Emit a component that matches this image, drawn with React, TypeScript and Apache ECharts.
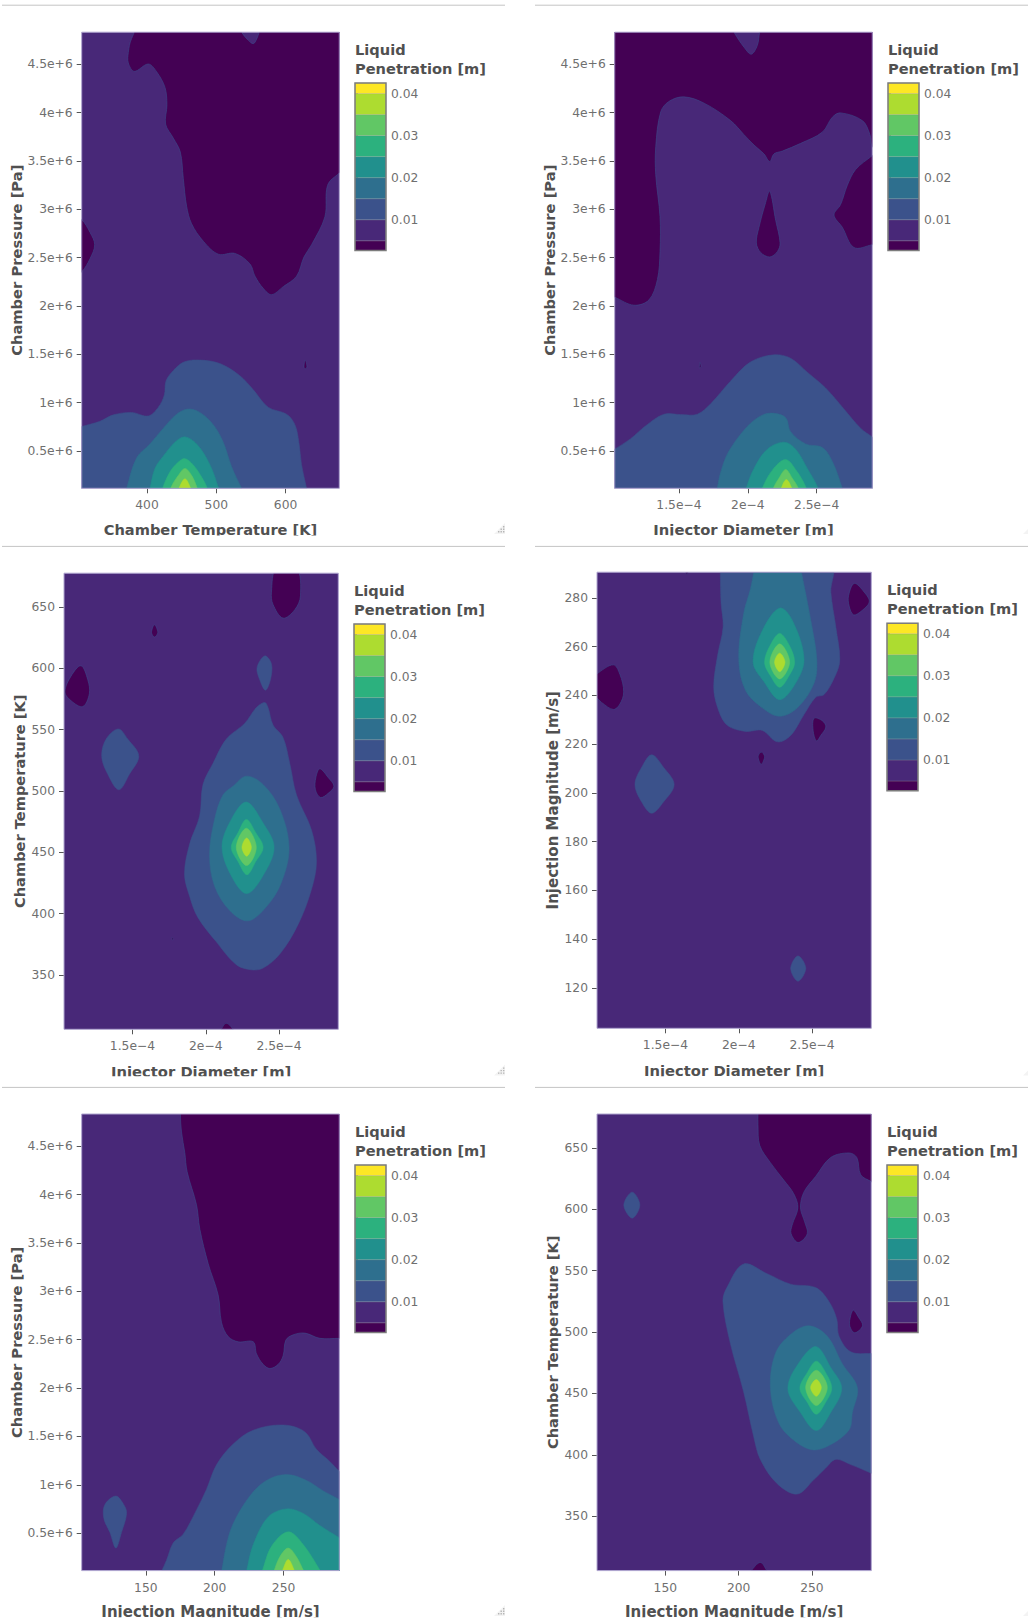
import React, { useEffect, useRef } from "react";
import * as echarts from "echarts";

// ---- tick values and labels ----
const pressureTicks = [0.5e6, 1e6, 1.5e6, 2e6, 2.5e6, 3e6, 3.5e6, 4e6, 4.5e6];
const pressureLabels = ["0.5e+6", "1e+6", "1.5e+6", "2e+6", "2.5e+6", "3e+6", "3.5e+6", "4e+6", "4.5e+6"];
const tempTicksX = [400, 500, 600];
const tempTicksY = [350, 400, 450, 500, 550, 600, 650];
const diamTicks = [1.5e-4, 2e-4, 2.5e-4];
const diamLabels = ["1.5e\u22124", "2e\u22124", "2.5e\u22124"];
const magTicksX = [150, 200, 250];
const magTicksY = [120, 140, 160, 180, 200, 220, 240, 260, 280];
const barTicks = [0.01, 0.02, 0.03, 0.04];

// ---- axis ranges ----
const pressureRange = [0.113e6, 4.833e6];
const tempRange = [305.8, 677.5];
const diamRange = [1.033e-4, 2.904e-4];
const magRange = [103.4, 290.5];

// ---- colour scale: contour level edges ----
const barEdges = [0.0027, 0.005, 0.01, 0.015, 0.02, 0.025, 0.03, 0.035, 0.04, 0.0425];
const bandColors = ["#440154", "#482878", "#3b528b", "#2e6f8e", "#21908d", "#2cb17e", "#61c765", "#addc30", "#fde725"];

// ---- Panel 1: Chamber Temperature [K] vs Chamber Pressure [MPa] ----
const p1DarkA = [[392.3,4.913],[377.9,4.768],[373.1,4.623],[373.1,4.515],[381.7,4.428],[401.9,4.504],[413.9,4.424],[426,4.262],[428.8,4.081],[426.9,3.882],[438,3.737],[448.1,3.593],[452.4,3.321],[457.2,3.032],[464.4,2.851],[481.3,2.67],[502.9,2.536],[526.9,2.544],[548.6,2.435],[555.8,2.309],[567.8,2.182],[579.8,2.117],[596.6,2.2],[615.9,2.309],[626.5,2.507],[637.5,2.634],[656.7,2.923],[660.6,3.249],[677.4,3.375],[692.8,3.466],[692.8,4.913],[565.4,4.913],[562,4.833],[558.2,4.761],[553.4,4.714],[546.2,4.75],[536.5,4.833],[533.2,4.913]];
const p1DarkB = [[296.2,2.923],[305.8,2.894],[317.8,2.761],[324.5,2.634],[317.8,2.489],[305.8,2.352],[296.2,2.309]];
const p1DarkC = [[628.4,1.44],[630.8,1.37],[628.4,1.35],[626.5,1.37]];
const p1L010 = [[296.2,0.735],[305.8,0.753],[332.2,0.807],[351.4,0.873],[377.9,0.898],[401.9,0.862],[416.3,0.952],[425,1.079],[427.4,1.223],[438,1.332],[453.9,1.422],[476.4,1.44],[505.3,1.404],[534.1,1.278],[553.4,1.133],[575,0.952],[601.5,0.88],[613.5,0.771],[619.2,0.59],[623.1,0.355],[630.3,0.113],[634.1,-0.04],[296.2,-0.04]];
const p1L015 = [[365.9,-0.04],[370.7,0.113],[385.1,0.428],[404.3,0.572],[423.6,0.735],[442.8,0.88],[459.6,0.934],[476.4,0.898],[495.7,0.771],[510.1,0.59],[522.1,0.337],[536.5,0.113],[546.2,-0.04]];
const p1L020 = [[399.5,-0.04],[404.3,0.113],[411.5,0.319],[423.6,0.446],[440.4,0.59],[454.8,0.645],[471.6,0.572],[488.5,0.391],[500.5,0.174],[506.3,-0.04]];
const p1L025 = [[417.8,-0.04],[422.6,0.113],[433.2,0.283],[445.2,0.384],[454.8,0.42],[466.8,0.355],[478.9,0.229],[487,0.113],[491.8,-0.04]];
const p1L030 = [[428.4,-0.04],[434.1,0.113],[445.2,0.247],[454.8,0.319],[464.4,0.247],[472.6,0.113],[478.4,-0.04]];
const p1L035 = [[440.4,-0.04],[446.2,0.113],[454.8,0.211],[463,0.113],[468.8,-0.04]];

// ---- Panel 2: Injector Diameter [um] vs Chamber Pressure [MPa] ----
const p2DarkA = [[97.9,2.128],[103.3,2.091],[117.3,2.008],[128.2,2.063],[134.3,2.272],[136.2,2.562],[136.2,2.923],[133.1,3.357],[133.1,3.647],[136.7,4.008],[142.7,4.117],[153.6,4.164],[168.2,4.099],[187.5,3.918],[197.2,3.773],[204.5,3.665],[211.7,3.574],[215.9,3.495],[219,3.574],[225.1,3.603],[238.4,3.683],[254.1,3.799],[261.4,3.954],[267.4,3.998],[283.2,3.918],[288.7,3.773],[290.4,3.647],[295.3,3.629],[295.3,4.913],[210.5,4.913],[208.6,4.833],[206.9,4.696],[202.5,4.605],[197.2,4.678],[189.9,4.833],[187,4.913],[97.9,4.913]];
const p2DarkB = [[295.3,3.611],[290.4,3.556],[278.3,3.412],[272.3,3.249],[267.4,3.05],[262.6,2.941],[268.6,2.815],[277.1,2.605],[290.4,2.634],[295.3,2.652]];
const p2DarkC = [[215.9,3.187],[220.2,2.887],[223.4,2.652],[221.4,2.562],[215.9,2.507],[209.3,2.554],[206.2,2.652],[208.1,2.815],[212.9,3.068]];
const p2DarkD = [[165.3,1.415],[166,1.368],[164.8,1.36]];
const p2L010 = [[97.9,0.464],[103.3,0.518],[114.9,0.627],[125.8,0.76],[139.1,0.88],[151.2,0.876],[163.3,0.88],[173,0.988],[187.5,1.223],[202.1,1.422],[219,1.495],[231.1,1.459],[243.2,1.314],[256.5,1.151],[269.8,0.934],[281.9,0.735],[290.4,0.645],[295.3,0.59],[295.3,-0.04],[97.9,-0.04]];
const p2L015 = [[176.6,-0.04],[177.8,0.113],[180.7,0.301],[186.3,0.5],[199.6,0.753],[209.3,0.862],[217.8,0.891],[227.5,0.844],[231.1,0.699],[242,0.572],[254.1,0.536],[261.4,0.391],[268.6,0.113],[271,-0.04]];
const p2L020 = [[197.2,-0.04],[198.9,0.113],[204.5,0.319],[214.2,0.518],[226.3,0.59],[234.7,0.518],[243.2,0.319],[251,0.113],[252.9,-0.04]];
const p2L025 = [[208.1,-0.04],[210.5,0.113],[217.8,0.301],[227.5,0.41],[235.9,0.283],[242.5,0.113],[244.9,-0.04]];
const p2L030 = [[216.1,-0.04],[218.5,0.113],[222.6,0.218],[227.5,0.308],[232.3,0.218],[236.7,0.113],[239.1,-0.04]];
const p2L035 = [[221.9,-0.04],[224.3,0.113],[228,0.203],[231.9,0.113],[234.3,-0.04]];

// ---- Panel 3: Injector Diameter [um] vs Chamber Temperature [K] ----
const p3DarkA = [[248.2,681.9],[244.8,662],[245.9,652],[252.7,640.9],[260.7,647.7],[264.6,659.1],[261.9,681.9]];
const p3DarkB = [[165,635.5],[167.3,629.2],[165,625.5],[163,629.2]];
const p3DarkC = [[114.9,602.1],[119.5,590.7],[120.6,579.3],[116.1,568.8],[108.1,573.6],[104,580.8],[108.1,593.6]];
const p3DarkD = [[277.8,518.1],[283.5,511],[287.4,503.9],[283.5,498.1],[278.3,494.7],[274.8,501],[275.1,511]];
const p3DarkE = [[176.8,380.5],[178,379.6],[177.3,378.5]];
const p3DarkF = [[208.3,300.1],[210.6,305.8],[214,310.7],[218.6,305.8],[220.8,300.1]];
const p3L010A = [[240.2,610.1],[244.8,603.6],[244.1,590.7],[240.7,582.2],[236.8,590.7],[235,600.7]];
const p3L010B = [[140.4,550.6],[146.8,542.3],[154.3,528.6],[148,513.8],[140.7,501],[133.1,513.8],[129,528.1],[132,542.3]];
const p3L010C = [[240.2,572.2],[242.5,568],[245.9,553.7],[252.7,543.7],[257.3,522.4],[261.9,496.7],[272.1,468.2],[275.5,442.6],[272.1,419.8],[263,391.3],[250.5,367.1],[239.1,355.7],[231.1,354.3],[220.8,358.5],[207.2,377.1],[194.6,397],[189,414.1],[185.5,432.6],[189,456.8],[195.8,479.6],[198.1,505.3],[204.9,522.4],[214,542.3],[226.5,555.1],[234.5,568]];
const p3L015 = [[227.7,512.1],[239.1,505.3],[250.5,485.3],[256.8,454],[251.6,425.5],[241.3,405.6],[228.8,394.2],[216.3,402.7],[206,422.6],[202.6,448.3],[206,476.8],[211.7,496.7],[218.6,503.9]];
const p3L020 = [[227.7,491],[239.1,473.9],[246.6,454],[239.1,431.2],[228.1,416.4],[218.6,428.3],[211.1,454],[217.4,476.8]];
const p3L025 = [[227.7,476.8],[234.1,466],[239.1,454],[234.1,442.6],[228.1,431.8],[222,442.6],[217.4,454],[222,466]];
const p3L030 = [[227.7,469.7],[234.5,454],[227.9,439.2],[220.8,454]];
const p3L035 = [[227.9,461.7],[231.1,454],[227.9,446.9],[224.7,454]];

// ---- Panel 4: Injector Diameter [um] vs Injection Magnitude [m/s] ----
const p4DarkA = [[98.4,246.4],[102.7,248.6],[114.4,252.5],[118.9,248.6],[121.5,241.4],[118.9,236.4],[114.4,234.2],[106.4,237.1],[102.7,239.2],[98.4,240.7]];
const p4DarkB = [[278.8,285.9],[285.6,282.3],[289,278.3],[283.3,274.4],[278.3,273],[275.3,276.6],[274.9,280.9]];
const p4DarkC = [[251.4,230.6],[257.1,229.5],[259.4,227],[255.9,223.5],[253,221.3],[250.7,225.6]];
const p4DarkD = [[215.3,216.7],[217.6,214.9],[215.3,211.7],[213.2,214.9]];
const p4DarkE = [[163.5,291.6],[165.8,291.6],[164.6,289.5]];
const p4L010A = [[140.6,215.6],[148.6,210.5],[155.9,203.4],[148.6,196.2],[140.6,191.6],[133.8,196.2],[129.2,203.4],[133.8,210.5]];
const p4L010B = [[240.4,133.1],[245.7,128],[240.4,122.7],[235.4,128]];
const p4L010C = [[187.4,293.8],[187.4,290.6],[187.9,278],[189.3,268],[185.6,256.5],[182.9,243.6],[185.6,234.9],[192,227.8],[204.6,225.2],[216,225.6],[226.3,220.9],[235.4,223.5],[244.5,232.1],[252.5,239.2],[258.2,240.3],[265.1,247.1],[268.9,254.3],[266.2,268],[262.8,282.3],[262.8,293.8]];
const p4L015 = [[211.4,293.8],[210.3,290.6],[208,283.7],[203.4,273.7],[200,255],[204.6,242.1],[216,234.9],[227.9,231.4],[240,234.9],[251.4,245],[253.2,255],[249.1,270.8],[245,283.7],[242.7,290.6],[241.8,293.8]];
const p4L020 = [[227.9,275.8],[236.5,270.8],[244.5,255],[238.8,245],[227.9,238.2],[217.1,245.7],[209.8,253.6],[216,266.5]];
const p4L025 = [[227.9,265.4],[234.2,260.8],[238.1,253.6],[234.2,247.9],[227.9,243.3],[221.7,247.9],[217.6,253.6],[221.7,260.8]];
const p4L030 = [[227.9,261.1],[234.7,253.6],[227.9,246.7],[221.2,253.6]];
const p4L035 = [[227.9,257.3],[231.5,253.6],[227.9,249.7],[224.4,253.6]];

// ---- Panel 5: Injection Magnitude [m/s] vs Chamber Pressure [MPa] ----
const p5DarkA = [[175.2,5.4],[175.1,4.833],[175.9,4.647],[178.3,4.432],[180,4.235],[186.8,3.894],[189.2,3.643],[195.3,3.285],[202.5,2.962],[205,2.675],[209.8,2.532],[217.1,2.478],[228,2.478],[230.4,2.353],[235.2,2.245],[240.1,2.202],[246.1,2.245],[249.7,2.335],[251.7,2.496],[257,2.55],[265.5,2.568],[276.4,2.514],[290.4,2.514],[295.7,2.514],[295.7,5.4]];
const p5L010A = [[128.2,0.883],[134,0.794],[136,0.704],[132.3,0.507],[128.2,0.346],[123.9,0.507],[119.5,0.651],[120.2,0.794]];
const p5L010B = [[159,0.023],[161.4,0.106],[165,0.22],[169.9,0.4],[177.1,0.489],[186.8,0.74],[194.1,0.955],[201.3,1.206],[213.4,1.421],[228,1.564],[249.7,1.618],[265.5,1.547],[273.9,1.367],[283.6,1.242],[290.4,1.142],[295.7,1.081],[295.7,0.023]];
const p5L015 = [[203.7,0.023],[205,0.106],[208.6,0.382],[213.4,0.597],[225.5,0.883],[237.6,1.045],[252.2,1.106],[266.7,1.045],[278.8,0.937],[290.4,0.848],[295.7,0.794],[295.7,0.023]];
const p5L020 = [[221.9,0.023],[223.1,0.106],[228,0.382],[238.9,0.668],[252.2,0.751],[264.3,0.704],[276.4,0.579],[290.4,0.453],[295.7,0.4],[295.7,0.023]];
const p5L025 = [[232.8,0.023],[234.5,0.106],[241.3,0.364],[253.4,0.514],[264.3,0.382],[276.9,0.106],[280,0.023]];
const p5L030 = [[241.3,0.023],[243,0.106],[247.3,0.256],[253.4,0.346],[259.4,0.256],[264.8,0.106],[267.9,0.023]];
const p5L035 = [[246.8,0.023],[249,0.106],[253.4,0.228],[258.2,0.106],[260.6,0.023]];

// ---- Panel 6: Injection Magnitude [m/s] vs Chamber Temperature [K] ----
const p6DarkA = [[213.3,720],[213.2,677.5],[213.2,668.9],[214.4,652],[221.7,637.9],[230.8,623.7],[237.7,612.4],[240.4,601.1],[236.5,587],[235.8,580],[240.6,572.9],[246.8,580],[245,589.8],[242.2,601.1],[244.5,613.9],[252.5,626.6],[262.8,642.1],[275.3,645.8],[280.6,642.1],[283.3,628],[290.6,622.3],[295.2,618.1],[295.2,720]];
const p6DarkB = [[278.3,517.8],[281.7,512.2],[284.5,505.1],[279.2,499.4],[275.8,505.1],[276.5,513.6]];
const p6DarkC = [[205.7,300.3],[208.4,305.4],[214.8,312.4],[219.4,305.4],[221.7,300.3]];
const p6L010A = [[127.4,613.9],[132.6,603.4],[127.4,592.7],[121.7,603.4]];
const p6L010B = [[203.4,555.4],[219.4,547.5],[235.4,539],[252.5,536.2],[261.6,524.9],[266.9,510.7],[268.5,496.6],[276.5,483.9],[290.6,482.5],[295.2,482.5],[295.2,382.2],[290.6,385],[276.5,392.1],[266.2,396.3],[259.4,389.3],[251.4,379.9],[240,368.1],[226.3,376.6],[214.8,396.3],[210.3,414.7],[203.4,451.4],[194.3,491],[189.3,524.9],[192,536.2]];
const p6L015 = [[247.9,505.1],[260.5,496.6],[270.8,474],[281,454.8],[277.6,434.5],[275.3,420.3],[261.6,407.6],[250.2,404.2],[237.7,411.9],[227.4,426],[221.7,454.2],[225.1,482.5],[235.4,498]];
const p6L020 = [[253,488.1],[262.8,471.2],[270.3,454.2],[262.8,434.5],[253,419.8],[242.2,434.5],[233.6,454.2],[242.2,476.8]];
const p6L025 = [[253,476.3],[259.4,466.9],[263.5,454.2],[259.4,442.9],[253,433.1],[246.8,442.9],[241.8,454.2],[246.8,466.9]];
const p6L030 = [[253,468.9],[260.5,454.8],[253,440.1],[245.7,454.8]];
const p6L035 = [[253,461.3],[256.4,454.8],[253,447.7],[249.1,454.8]];

// ---- Panel composition ----
const MPA = 1e6;
const UM = 1e-6;
const xTemp = { name: "Chamber Temperature [K]", nameSize: 14.6, range: tempRange, ticks: tempTicksX, labels: tempTicksX.map(String), unit: 1 };
const xDiam = { name: "Injector Diameter [m]", nameSize: 14.75, range: diamRange, ticks: diamTicks, labels: diamLabels, unit: UM };
const xMag = { name: "Injection Magnitude [m/s]", nameSize: 15, range: magRange, ticks: magTicksX, labels: magTicksX.map(String), unit: 1 };
const yPress = { name: "Chamber Pressure [Pa]", nameSize: 14.7, range: pressureRange, ticks: pressureTicks, labels: pressureLabels, unit: MPA };
const yTemp = { name: "Chamber Temperature [K]", nameSize: 14.6, range: tempRange, ticks: tempTicksY, labels: tempTicksY.map(String), unit: 1 };
const yMag = { name: "Injection Magnitude [m/s]", nameSize: 15, range: magRange, ticks: magTicksY, labels: magTicksY.map(String), unit: 1 };

const panels = [
  { box: [81.7, 32.2, 257.6, 456.1], bar: [355, 83], gap: 55, xGap: 34, x: xTemp, y: yPress,
    contours: [[2, p1L010], [3, p1L015], [4, p1L020], [5, p1L025], [6, p1L030], [7, p1L035], [0, p1DarkA], [0, p1DarkB], [0, p1DarkC]] },
  { box: [614.7, 32.2, 257.6, 456.1], bar: [888, 83], gap: 55, xGap: 34, x: xDiam, y: yPress,
    contours: [[2, p2L010], [3, p2L015], [4, p2L020], [5, p2L025], [6, p2L030], [7, p2L035], [0, p2DarkA], [0, p2DarkB], [0, p2DarkC], [0, p2DarkD]] },
  { box: [64, 573.2, 274.3, 456.1], bar: [354, 624], gap: 37, xGap: 34.5, x: xDiam, y: yTemp,
    contours: [[2, p3L010A], [2, p3L010B], [2, p3L010C], [3, p3L015], [4, p3L020], [5, p3L025], [6, p3L030], [7, p3L035], [0, p3DarkA], [0, p3DarkB], [0, p3DarkC], [0, p3DarkD], [0, p3DarkE], [0, p3DarkF]] },
  { box: [597, 572.2, 274.3, 456.1], bar: [887, 623.2], gap: 37, xGap: 34.5, x: xDiam, y: yMag,
    contours: [[2, p4L010A], [2, p4L010B], [2, p4L010C], [3, p4L015], [4, p4L020], [5, p4L025], [6, p4L030], [7, p4L035], [0, p4DarkA], [0, p4DarkB], [0, p4DarkC], [0, p4DarkD], [0, p4DarkE]] },
  { box: [81.7, 1114, 257.6, 456.6], bar: [355, 1165], gap: 55, xGap: 33.5, x: xMag, y: yPress,
    contours: [[2, p5L010A], [2, p5L010B], [3, p5L015], [4, p5L020], [5, p5L025], [6, p5L030], [7, p5L035], [0, p5DarkA]] },
  { box: [597, 1114, 274.3, 456.6], bar: [887, 1165], gap: 37, xGap: 33.5, x: xMag, y: yTemp,
    contours: [[2, p6L010A], [2, p6L010B], [3, p6L015], [4, p6L020], [5, p6L025], [6, p6L030], [7, p6L035], [0, p6DarkA], [0, p6DarkB], [0, p6DarkC]] },
];

const FONT = "DejaVu Sans";
const BAR_W = 31;
const BAR_H = 167.5;

const axisOf = (a: any, gridIndex: number, nameGap: number, isY: boolean) => ({
  type: "value",
  gridIndex,
  min: a.range[0],
  max: a.range[1],
  name: a.name,
  nameLocation: "middle",
  nameGap,
  nameRotate: isY ? 90 : 0,
  nameTextStyle: { fontFamily: FONT, fontWeight: "bold", fontSize: a.nameSize, color: "#505050" },
  splitLine: { show: false },
  axisLine: { show: false },
  axisTick: { show: true, length: 5, customValues: a.ticks, lineStyle: { color: "#555", width: 1 } },
  axisLabel: {
    show: true,
    customValues: a.ticks,
    margin: isY ? 9 : 11,
    fontFamily: FONT,
    fontSize: 12.3,
    color: "#6f6f6f",
    formatter: (v: number) => {
      const i = a.ticks.findIndex((t: number) => Math.abs(t - v) < Math.abs(t) * 1e-6);
      return i >= 0 ? a.labels[i] : "";
    },
  },
});

const buildOption = () => {
  const grid: any[] = [];
  const xAxis: any[] = [];
  const yAxis: any[] = [];
  const series: any[] = [];
  const graphic: any[] = [];

  panels.forEach((p, k) => {
    const plotIdx = k * 2;
    const barIdx = k * 2 + 1;
    grid.push({ left: p.box[0], top: p.box[1], width: p.box[2], height: p.box[3], show: true, backgroundColor: bandColors[1], borderWidth: 0 });
    xAxis.push(axisOf(p.x, plotIdx, p.xGap, false));
    yAxis.push(axisOf(p.y, plotIdx, p.gap, true));

    // contour fills
    series.push({
      type: "custom",
      coordinateSystem: "cartesian2d",
      xAxisIndex: plotIdx,
      yAxisIndex: plotIdx,
      clip: true,
      silent: true,
      data: p.contours.map((c: any) => [c[0]]),
      renderItem: (params: any, api: any) => {
        const [lvl, pts] = p.contours[params.dataIndex] as any;
        const points = pts.map((q: number[]) => api.coord([q[0] * p.x.unit, q[1] * p.y.unit]));
        const isDark = lvl === 0;
        return {
          type: "polygon",
          shape: { points, smooth: 0.35 },
          style: { fill: bandColors[lvl], stroke: isDark ? "#3d4a8a" : bandColors[lvl], lineWidth: isDark ? 0.6 : 0.5 },
        };
      },
    });

    // plot frame
    series.push({
      type: "custom",
      coordinateSystem: "cartesian2d",
      xAxisIndex: plotIdx,
      yAxisIndex: plotIdx,
      clip: false,
      silent: true,
      z: 3,
      data: [[0]],
      renderItem: (_: any, api: any) => {
        const a = api.coord([p.x.range[0], p.y.range[1]]);
        const b = api.coord([p.x.range[1], p.y.range[0]]);
        return {
          type: "rect",
          shape: { x: a[0], y: a[1], width: b[0] - a[0], height: b[1] - a[1] },
          style: { fill: "none", stroke: "#b0a6d0", lineWidth: 1 },
        };
      },
    });

    // colour bar
    grid.push({ left: p.bar[0], top: p.bar[1], width: BAR_W, height: BAR_H });
    xAxis.push({ type: "value", gridIndex: barIdx, min: 0, max: 1, show: false });
    yAxis.push({
      type: "value",
      gridIndex: barIdx,
      position: "right",
      min: barEdges[0],
      max: barEdges[barEdges.length - 1],
      splitLine: { show: false },
      axisLine: { show: false },
      axisTick: { show: true, length: 3, customValues: barTicks, lineStyle: { color: "#777" } },
      axisLabel: { show: true, customValues: barTicks, margin: 5, fontFamily: FONT, fontSize: 12.3, color: "#6f6f6f", formatter: (v: number) => v.toFixed(2) },
    });
    series.push({
      type: "custom",
      coordinateSystem: "cartesian2d",
      xAxisIndex: barIdx,
      yAxisIndex: barIdx,
      silent: true,
      data: bandColors.map((_, i) => [i]),
      renderItem: (params: any, api: any) => {
        const i = params.dataIndex;
        const a = api.coord([0, barEdges[i + 1]]);
        const b = api.coord([1, barEdges[i]]);
        return {
          type: "rect",
          shape: { x: a[0], y: a[1], width: b[0] - a[0], height: b[1] - a[1] },
          style: { fill: bandColors[i], stroke: "rgba(150,150,150,0.45)", lineWidth: 0.6 },
        };
      },
    });
    series.push({
      type: "custom",
      coordinateSystem: "cartesian2d",
      xAxisIndex: barIdx,
      yAxisIndex: barIdx,
      silent: true,
      z: 3,
      data: [[0]],
      renderItem: (_: any, api: any) => {
        const a = api.coord([0, barEdges[barEdges.length - 1]]);
        const b = api.coord([1, barEdges[0]]);
        return {
          type: "rect",
          shape: { x: a[0], y: a[1], width: b[0] - a[0], height: b[1] - a[1] },
          style: { fill: "none", stroke: "#7c7c7c", lineWidth: 1.5 },
        };
      },
    });

    // colour bar title
    graphic.push({ type: "text", left: p.bar[0], top: p.bar[1] - 41, z: 10, style: { text: "Liquid", fontFamily: FONT, fontWeight: "bold", fontSize: 14.6, fill: "#505050" } });
    graphic.push({ type: "text", left: p.bar[0], top: p.bar[1] - 22, z: 10, style: { text: "Penetration [m]", fontFamily: FONT, fontWeight: "bold", fontSize: 14.6, fill: "#505050" } });
  });

  // the axis titles are cut off by their card, and the cards are split by thin rules
  [[0, 535.4, 1028, 10.5], [0, 1076.2, 1028, 10.7], [0, 1617.2, 1028, 6]].forEach((r) =>
    graphic.push({ type: "rect", shape: { x: r[0], y: r[1], width: r[2], height: r[3] }, z: 20, silent: true, style: { fill: "#fff" } })
  );
  [5.2, 546.4, 1087.4].forEach((y) => {
    graphic.push({ type: "line", shape: { x1: 2, y1: y, x2: 505, y2: y }, z: 21, silent: true, style: { stroke: "#c4c4c4", lineWidth: 1 } });
    graphic.push({ type: "line", shape: { x1: 535, y1: y, x2: 1028, y2: y }, z: 21, silent: true, style: { stroke: "#c4c4c4", lineWidth: 1 } });
  });

  // resize handles at each card's corner
  [534, 1075.4, 1616].forEach((y) => {
    graphic.push({ type: "polygon", shape: { points: [[505, y - 11], [505, y], [494, y]] }, z: 21, silent: true, style: { fill: "#f3f3f3" } });
    graphic.push({ type: "polygon", shape: { points: [[1028, y - 5], [1028, y], [1023, y]] }, z: 21, silent: true, style: { fill: "#f3f3f3" } });
    [[503, y - 8], [503, y - 5.5], [500.5, y - 5.5], [503, y - 3], [500.5, y - 3], [498, y - 3]].forEach((d) =>
      graphic.push({ type: "rect", shape: { x: d[0], y: d[1], width: 1.4, height: 1.4 }, z: 22, silent: true, style: { fill: "#b5b5b5" } })
    );
  });

  return { animation: false, backgroundColor: "#fff", grid, xAxis, yAxis, series, graphic };
};

export default function App() {
  const ref = useRef<HTMLDivElement>(null);
  useEffect(() => {
    document.body.style.margin = "0";
    const chart = echarts.init(ref.current!, undefined, { renderer: "svg" });
    chart.setOption(buildOption() as any);
    return () => chart.dispose();
  }, []);
  return <div ref={ref} style={{ position: "absolute", left: 0, top: 0, width: 1028, height: 1623 }} />;
}
